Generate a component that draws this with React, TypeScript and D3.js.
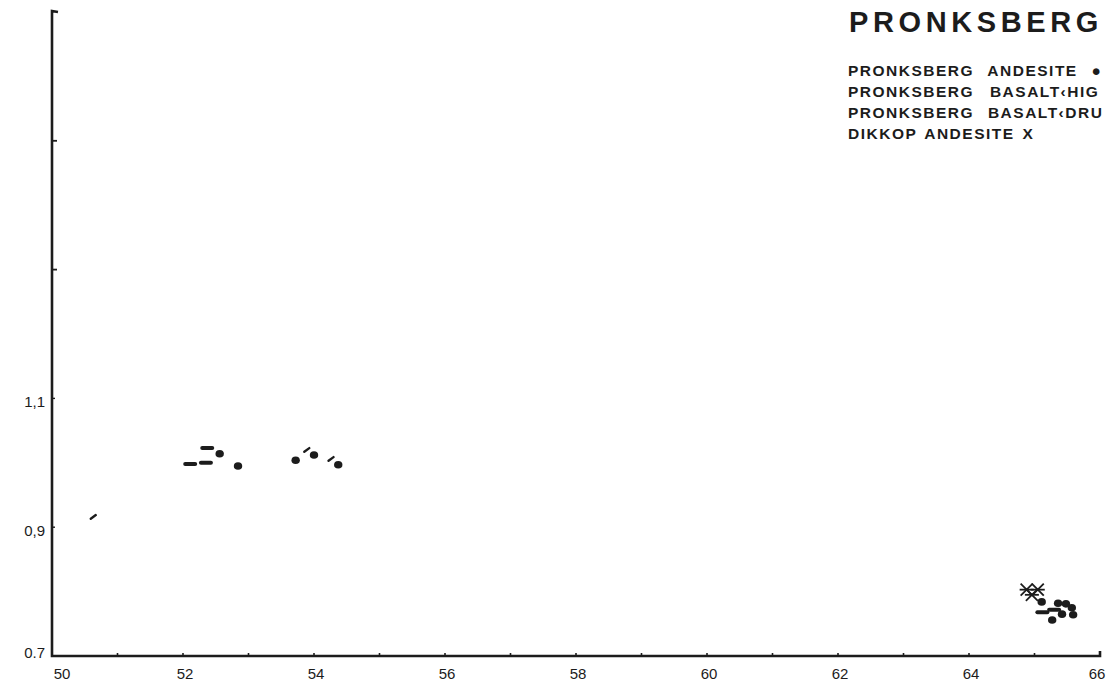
import React from 'react'
import { scaleLinear, range } from 'd3'

// SiO2 (%) on x, ratio on y
const andesiteX = [52.56, 52.84, 53.72, 54.0, 54.37, 65.11, 65.36, 65.48, 65.57, 65.59, 65.42, 65.27]
const andesiteY = [1.014, 0.995, 1.004, 1.012, 0.997, 0.784, 0.782, 0.781, 0.775, 0.764, 0.765, 0.756]

const basaltHighX = [52.11, 52.35, 52.37, 65.12, 65.3]
const basaltHighY = [0.998, 1.0, 1.023, 0.768, 0.772]

const basaltDruX = [50.63, 53.89, 54.26]
const basaltDruY = [0.916, 1.02, 1.006]

const dikkopX = [64.88, 65.05, 64.96]
const dikkopY = [0.803, 0.803, 0.795]

const xTickLabels = ['50', '52', '54', '56', '58', '60', '62', '64', '66']
const yTickLabels = ['0.7', '0,9', '1,1']
const yTickValues = [0.7, 0.9, 1.1]

const legendLines = [
  'PRONKSBERG ANDESITE \u25CF',
  'PRONKSBERG BASALT\u2039HIG',
  'PRONKSBERG BASALT\u2039DRU',
  'DIKKOP ANDESITE X',
]
const legendWordGap = [8, 10, 8, 2]

const W = 1109
const H = 691
const ink = '#1c1c1c'
const font = 'Liberation Sans, Arial, sans-serif'

const App = () => {
  const x = scaleLinear().domain([50, 66]).range([52, 1100])
  const y = scaleLinear().domain([0.7, 1.7]).range([656, 12])

  const xMinor = range(51, 66, 1)
  const yMinor = [1.3, 1.5]

  const pts = (xs: number[], ys: number[]) => xs.map((v, i) => [x(v), y(ys[i])])

  return (
    <svg width={W} height={H} style={{ position: 'absolute', left: 0, top: 0, background: '#fff' }}>
      {/* axes */}
      <path
        d={`M${x(50) + 6},${y(1.7)} L${x(50)},${y(1.7) - 1} L${x(50)},${y(0.7)} L${x(66)},${y(0.7)} L${x(66)},${y(0.7) - 5}`}
        fill="none"
        stroke={ink}
        strokeWidth={2.6}
      />
      {xMinor.map(t => (
        <line key={'xt' + t} x1={x(t)} x2={x(t)} y1={y(0.7)} y2={y(0.7) - 3} stroke={ink} strokeWidth={1.6} />
      ))}
      {yMinor.map(t => (
        <line key={'yt' + t} x1={x(50)} x2={x(50) + 5} y1={y(t)} y2={y(t)} stroke={ink} strokeWidth={1.8} />
      ))}
      {yTickValues.map(t => (
        <line key={'yv' + t} x1={x(50)} x2={x(50) + 3} y1={y(t)} y2={y(t)} stroke={ink} strokeWidth={1.4} />
      ))}

      {/* tick labels */}
      {xTickLabels.map(l => (
        <text
          key={'xl' + l}
          x={Math.min(x(+l) + (l === '50' ? 10 : 2), W - 12)}
          y={679}
          textAnchor="middle"
          fontFamily={font}
          fontSize={15}
          fill={ink}
        >
          {l}
        </text>
      ))}
      {yTickLabels.map((l, i) => (
        <text
          key={'yl' + l}
          x={45}
          y={y(yTickValues[i]) + (i === 0 ? 2 : 9)}
          textAnchor="end"
          fontFamily={font}
          fontSize={15}
          fill={ink}
        >
          {l}
        </text>
      ))}

      {/* title + legend */}
      <text x={849} y={32} fontFamily={font} fontWeight="bold" fontSize={29} letterSpacing={4.6} fill={ink}>
        PRONKSBERG
      </text>
      {legendLines.map((l, i) => (
        <text
          key={l}
          x={848}
          y={75.5 + i * 21}
          fontFamily={font}
          fontWeight="bold"
          fontSize={15.5}
          letterSpacing={1.5}
          wordSpacing={legendWordGap[i]}
          fill={ink}
        >
          {l}
        </text>
      ))}

      {/* Pronksberg andesite: dots */}
      {pts(andesiteX, andesiteY).map(([cx, cy], i) => (
        <ellipse key={'a' + i} cx={cx} cy={cy} rx={4.2} ry={3.8} fill={ink} />
      ))}
      {/* Pronksberg basalt (high): dashes */}
      {pts(basaltHighX, basaltHighY).map(([cx, cy], i) => (
        <rect key={'b' + i} x={cx - 7} y={cy - 2} width={14} height={4} rx={2} fill={ink} />
      ))}
      {/* Pronksberg basalt (drusy): short slanted marks */}
      {pts(basaltDruX, basaltDruY).map(([cx, cy], i) => (
        <line key={'d' + i} x1={cx - 2.5} y1={cy + 1.8} x2={cx + 2.5} y2={cy - 1.8} stroke={ink} strokeWidth={2.4} strokeLinecap="round" />
      ))}
      {/* Dikkop andesite: crosses */}
      {pts(dikkopX, dikkopY).map(([cx, cy], i) => (
        <g key={'k' + i} stroke={ink} strokeWidth={1.8}>
          <line x1={cx - 6} y1={cy - 6} x2={cx + 6} y2={cy + 6} />
          <line x1={cx - 6} y1={cy + 6} x2={cx + 6} y2={cy - 6} />
          <line x1={cx - 7} y1={cy} x2={cx + 7} y2={cy} />
        </g>
      ))}
    </svg>
  )
}

export default App
